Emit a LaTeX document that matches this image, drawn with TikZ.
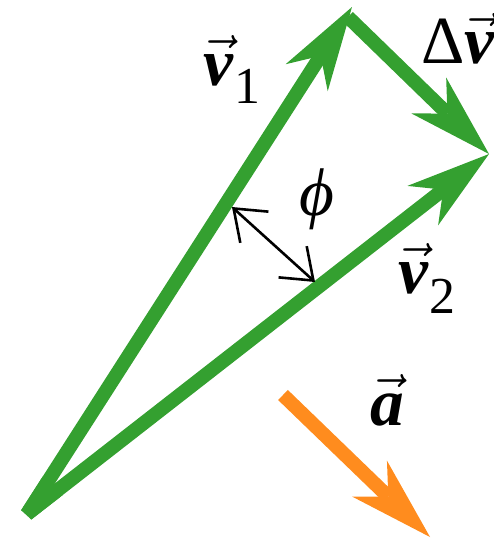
\documentclass[tikz,border=0pt]{standalone}
\usepackage{amsmath}
\usepackage{fontspec}
\setmainfont{Liberation Serif}
\usetikzlibrary{arrows.meta,calc}
\definecolor{vgreen}{RGB}{52,160,48}
\definecolor{aorange}{RGB}{255,140,30}
\newcommand{\biglab}[1]{\scalebox{3.25}{\huge #1}}
\newcommand{\sublab}[1]{\scalebox{2.5}{\huge #1}}
\newcommand{\bv}[1]{$\vec{\text{\bfseries\itshape #1}}$}
\begin{document}
\begin{tikzpicture}[x=1pt,y=-1pt,
  thickvec/.style={line width=14pt, -{Stealth[length=84pt,width=50pt,inset=26pt,line width=0pt]}},
  lab/.style={anchor=base west, inner sep=0pt},
  phiarrow/.style={line width=2.6pt, black, {Straight Barb[length=28pt,width=42pt]}-{Straight Barb[length=28pt,width=42pt]}},
  ]
\useasboundingbox (0,0) rectangle (493,541);
\coordinate (O) at (27,514);
\coordinate (A) at (352,7);
\coordinate (A2) at (348,17);
\coordinate (B) at (489,154);
\coordinate (P1) at (232,207);
\coordinate (P2) at (315,282);
\coordinate (R1) at (283,395);
\coordinate (R2) at (430,537);
% green vectors
\draw[vgreen, thickvec] (O) -- (A);
\draw[vgreen, thickvec] (O) -- (B);
\draw[vgreen, thickvec] (A2) -- (B);
\draw[vgreen, line width=14pt, line join=bevel] ($(O)!40pt!(A)$) -- (O) -- ($(O)!40pt!(B)$);
% orange acceleration
\draw[aorange, thickvec] (R1) -- (R2);
% angle marker
\draw[phiarrow] (P1) -- (P2);
% labels
\node[lab] (v1) at (203,85) {\biglab{\bv{v}}\kern1pt\raisebox{-18pt}{\sublab{1}}};
\node[lab] (v2) at (398,293) {\biglab{\bv{v}}\kern1pt\raisebox{-20pt}{\sublab{2}}};
\node[lab] (dv) at (421,63) {\biglab{Δ\bv{v}}};
\node[lab] (acc) at (370,425) {\biglab{\bv{a}}};
\node[lab] (phi) at (299,215) {\biglab{\itshape ϕ}};
\end{tikzpicture}
\end{document}
